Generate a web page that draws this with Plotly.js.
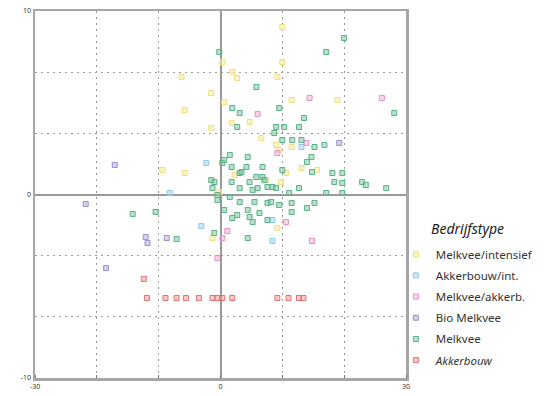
<!DOCTYPE html>
<html>
<head>
<meta charset="utf-8">
<script src="https://cdn.plot.ly/plotly-3.0.1.min.js"></script>
<style>html,body{margin:0;padding:0;background:#fff;}#chart{width:548px;height:396px;}</style>
</head>
<body>
<div id="chart"></div>
<script>
// Series names (legend order)
const seriesNames = ["Melkvee/intensief", "Akkerbouw/int.", "Melkvee/akkerb.", "Bio Melkvee", "Melkvee", "<i>Akkerbouw</i>"];

// Melkvee/intensief
const intensiefX = [10.0, 0.3, 10.0, 1.9, 2.7, 9.2, -1.5, 11.5, 18.9, 0.6, 4.7, -1.5, 6.6, 9.0, 9.5, 11.5, 1.8, 13.1, 15.6, 2.3, 7.4, 9.8, 10.6, -0.2, -6.3, -5.8, -9.4, -5.8, 9.2, -1.3];
const intensiefY = [9.13, 7.22, 7.22, 6.68, 6.35, 6.40, 5.53, 5.15, 5.15, 5.04, 3.95, 3.62, 3.08, 2.70, 2.43, 2.59, 3.90, 1.44, 1.34, 1.06, 0.79, 0.68, 1.17, 0.14, 6.40, 4.60, 1.34, 1.17, -1.83, -2.37];

// Akkerbouw/int.
const akkIntX = [-2.3, -8.2, -3.1, 8.4, 8.4, 13.1];
const akkIntY = [1.72, 0.08, -1.72, -1.39, -2.53, 2.59];

// Melkvee/akkerb.
const mkAkkX = [6.0, 14.4, 26.1, 13.9, 9.2, 10.6, 14.8, 1.1, 0.3, -0.5];
const mkAkkY = [4.39, 5.26, 5.26, 2.81, 2.26, -1.50, -2.53, -1.99, -2.37, -3.46];

// Bio Melkvee
const bioX = [-17.1, -21.8, -12.1, -11.8, -8.7, -18.5, 19.2];
const bioY = [1.61, -0.52, -2.32, -2.64, -2.37, -4.01, 2.81];

// Melkvee
const melkveeX = [-0.2, 17.1, 20.0, 28.1, 5.8, 1.9, 3.1, 2.7, 9.5, 13.5, 9.0, 10.3, 12.7, 10.0, 11.6, 15.2, 16.8, 14.7, 14.0, 1.5, 0.3, 4.4, 6.8, 4.2, 3.1, 6.8, 4.7, 1.8, -1.0, -1.5, 10.0, 14.8, 18.1, 19.7, 19.7, 18.4, 22.9, 23.5, 26.8, 19.7, 17.1, 11.1, 5.2, 8.4, 3.4, 5.8, 7.1, 3.1, 6.0, 7.6, 0.6, 1.8, 13.1, 9.0, 12.7, 8.7, -0.5, 1.5, 3.1, 5.5, 7.6, 0.6, 2.7, 4.4, 6.3, 1.9, 4.7, 5.2, 7.6, 8.2, 9.5, 11.5, 11.5, 14.0, 15.2, -14.2, -10.5, -7.1, 4.4, -1.0, -1.3, -0.5];
const melkveeY = [7.77, 7.77, 8.53, 4.44, 5.86, 4.71, 4.44, 3.68, 4.71, 4.17, 3.68, 3.68, 3.68, 2.97, 2.97, 2.59, 2.70, 2.04, 1.77, 2.15, 1.72, 2.04, 1.50, 1.50, 1.17, 0.95, 0.68, 0.68, 0.68, 0.79, 1.34, 1.23, 1.17, 1.17, 0.63, 0.68, 0.68, 0.52, 0.35, 0.08, 0.08, 0.08, 0.25, 0.41, 1.23, 0.95, 0.79, 0.35, 0.35, 0.41, 1.88, 1.50, 2.97, 0.35, 0.35, 3.35, -0.03, -0.14, -0.41, -0.41, -0.46, -0.84, -1.12, -0.84, -1.01, -1.28, -1.23, -1.50, -1.39, -0.41, -0.57, -0.46, -0.95, -0.74, -0.46, -1.06, -0.95, -2.43, -2.37, -2.10, 0.35, -0.30];

// Akkerbouw
const akkerbouwX = [-11.9, -8.9, -7.1, -5.6, -3.5, -1.3, -0.5, 0.3, 1.9, 9.2, 11.0, 12.7, 13.4, -12.4];
const akkerbouwY = [-5.64, -5.64, -5.64, -5.64, -5.64, -5.64, -5.64, -5.64, -5.64, -5.64, -5.64, -5.64, -5.64, -4.60];

// Axis ticks
const xTickVals = [-30, 0, 30];
const xTickText = ["-30", "0", "30"];
const yTickVals = [-10, 0, 10];
const yTickText = ["-10", "0", "10"];

const colors = ["#eedf80", "#8dcbe6", "#e392c6", "#9a90c6", "#5bb287", "#e27272"];
const fills = ["rgba(246,236,150,0.6)", "rgba(160,214,238,0.55)", "rgba(238,170,214,0.5)", "rgba(176,166,212,0.5)", "rgba(120,196,158,0.5)", "rgba(238,150,150,0.5)"];

const xs = [intensiefX, akkIntX, mkAkkX, bioX, melkveeX, akkerbouwX];
const ys = [intensiefY, akkIntY, mkAkkY, bioY, melkveeY, akkerbouwY];

const traces = seriesNames.map((name, i) => ({
  type: "scatter",
  mode: "markers",
  name: name,
  legendgroup: "g" + i,
  x: xs[i],
  y: ys[i],
  marker: {symbol: "square", size: 5, color: fills[i], line: {color: colors[i], width: 1}},
  hoverinfo: "x+y+name"
}));

const gridStyle = {gridcolor: "#9a9a9a", gridwidth: 1.2, griddash: "2px,4px"};

const layout = {
  width: 548, height: 396,
  margin: {l: 35, r: 141, t: 11, b: 18},
  paper_bgcolor: "#fff", plot_bgcolor: "#fff",
  font: {family: "Noto Sans, Open Sans, sans-serif", color: "#333"},
  showlegend: true,
  xaxis: {
    range: [-30, 30], tickvals: xTickVals, ticktext: xTickText,
    tickfont: {size: 7, color: "#333"},
    showgrid: false, zeroline: true, zerolinecolor: "#999", zerolinewidth: 2,
    showline: true, mirror: true, linecolor: "#a6a6a6", linewidth: 2.5,
    ticks: "", fixedrange: true,
    minor: Object.assign({dtick: 10, tick0: 0, showgrid: true, ticks: "inside", ticklen: 3, tickcolor: "#777"}, gridStyle)
  },
  yaxis: {
    range: [-10, 10], tickvals: yTickVals, ticktext: yTickText,
    tickfont: {size: 7, color: "#333"},
    showgrid: false, zeroline: true, zerolinecolor: "#999", zerolinewidth: 2,
    showline: true, mirror: true, linecolor: "#a6a6a6", linewidth: 2.5,
    ticks: "", fixedrange: true,
    minor: Object.assign({dtick: 10/3, tick0: 0, showgrid: true}, gridStyle)
  },
  legend: {
    x: 0.97, xanchor: "left", y: 0.377, yanchor: "top",
    bgcolor: "rgba(0,0,0,0)", font: {size: 11.5, color: "#333"},
    traceorder: "grouped", tracegroupgap: 2.2
  },
  annotations: [{
    text: "<i>Bedrijfstype</i>", xref: "paper", yref: "paper",
    x: 1.062, y: 0.406, xanchor: "left", yanchor: "middle",
    showarrow: false, font: {size: 14, color: "#222"}
  }]
};

Plotly.newPlot("chart", traces, layout, {displayModeBar: false, staticPlot: true});
</script>
</body>
</html>
